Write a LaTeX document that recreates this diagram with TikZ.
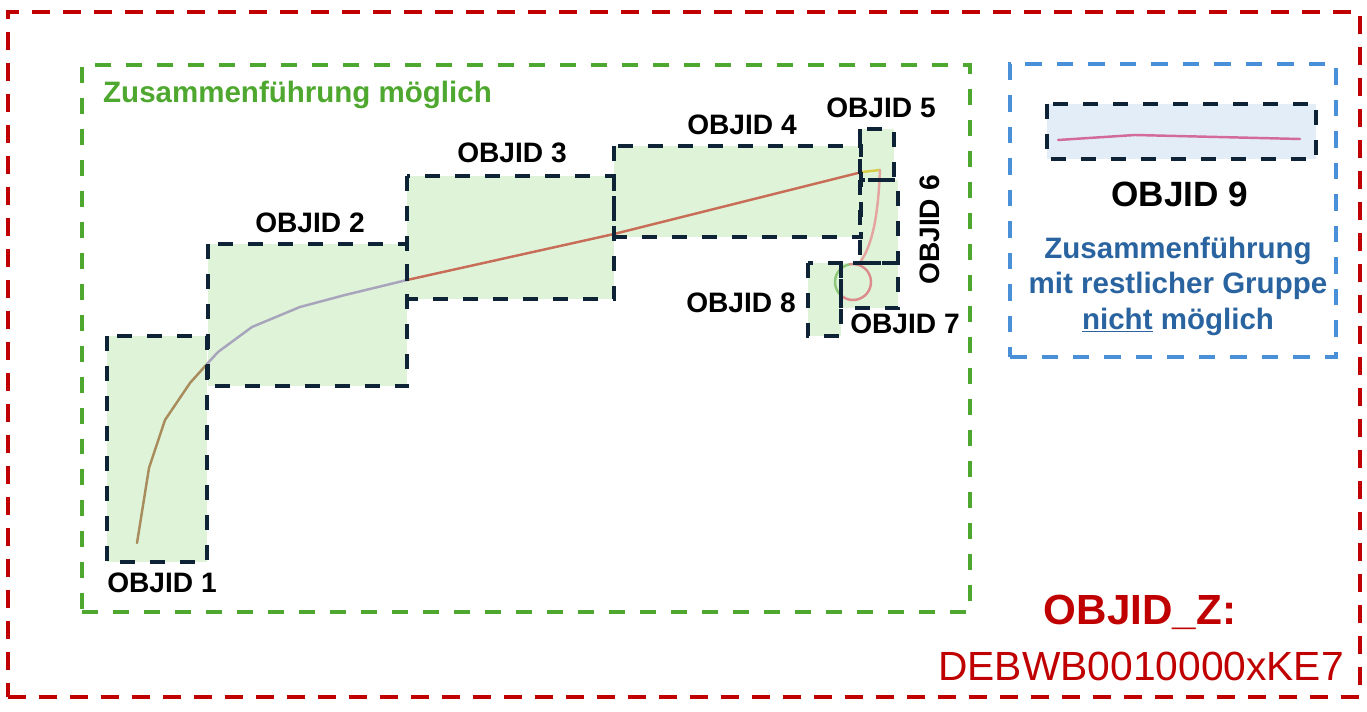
\documentclass[tikz,border=0pt]{standalone}
\usepackage{fontspec}
\setmainfont{Liberation Sans}
\usetikzlibrary{fit}

\definecolor{zred}{HTML}{C00000}
\definecolor{zgreen}{HTML}{4EA72E}
\definecolor{zblue}{HTML}{4A90D9}
\definecolor{ztext}{HTML}{2A64A0}
\definecolor{zdark}{HTML}{0E2335}
\definecolor{zfill}{HTML}{DFF3D9}
\definecolor{zfillb}{HTML}{E3EDF8}
\definecolor{seg1}{HTML}{A88C5C}
\definecolor{seg2}{HTML}{A8A4BC}
\definecolor{seg3}{HTML}{C86E58}
\definecolor{seg4}{HTML}{D7CD46}
\definecolor{seg5}{HTML}{E4A5A0}
\definecolor{seg6}{HTML}{8CC878}
\definecolor{seg7}{HTML}{DC8C8C}
\definecolor{seg9}{HTML}{D26A9A}

\tikzset{
  grp/.style={draw=#1, line width=2.1pt, dash pattern=on 0.36cm off 0.26cm, inner sep=0pt},
  objfill/.style={fill=zfill, inner sep=0pt},
  objbox/.style={draw=zdark, line width=2.3pt, dash pattern=on 0.3cm off 0.3cm},
  objlabel/.style={anchor=base, font=\bfseries\fontsize{16}{19}\selectfont},
  geo/.style={line width=1.4pt, line cap=round, line join=round, draw=#1},
}

\begin{document}
\begin{tikzpicture}[x=0.02cm,y=-0.02cm]
\useasboundingbox (0,0) rectangle (1367,712);

\node[grp=zred, fit={(8,12) (1360,697)}] (outer) {};
\node[grp=zgreen, line width=1.9pt, dash pattern=on 0.32cm off 0.3cm, fit={(82,65) (970,612)}] (merge) {};
\node[grp=zblue, line width=2pt, dash pattern=on 0.33cm off 0.3cm, fit={(1010,64) (1336,357)}] (nomerge) {};

\node[objfill, fit={(107,336) (207,562)}] (o1) {};
\node[objfill, fit={(208,244) (407,386)}] (o2) {};
\node[objfill, fit={(407,176) (614,299)}] (o3) {};
\node[objfill, fit={(614,146) (861,237)}] (o4) {};
\node[objfill, fit={(860,129) (894,180)}] (o5) {};
\node[objfill, fit={(860,180) (898,263)}] (o6) {};
\node[objfill, fit={(841,263) (898,308)}] (o7) {};
\node[objfill, fit={(808,263) (841,336)}] (o8) {};
\node[objfill, fill=zfillb, fit={(1047,104) (1316,159)}] (o9) {};

\draw[geo=seg1] (137,543) -- (149,468) -- (165,420) -- (190,383) -- (207,364);
\draw[geo=seg2] (207,364) -- (218,352) -- (252,327) -- (300,307) -- (345,295) -- (407,280);
\draw[geo=seg3] (407,280) -- (614,234) -- (862,172);
\draw[geo=seg4] (862,172) -- (880,170);
\coordinate (loop) at (853,282);
\draw[geo=seg5] (880,170) .. controls (878,215) and (873,245) .. (859,264);
\draw[geo=seg6] ([shift={(100:0.36cm)}]loop) arc[start angle=100, end angle=230, radius=0.36cm];
\draw[geo=seg7] ([shift={(230:0.36cm)}]loop) arc[start angle=230, end angle=460, radius=0.36cm];
\draw[geo=seg9] (1058,140) -- (1135,135) -- (1300,139);

\foreach \i in {1,...,9} \draw[objbox] (o\i.north west) rectangle (o\i.south east);

\node[objlabel] (l1) at (162,593) {OBJID 1};
\node[objlabel] (l2) at (310,233) {OBJID 2};
\node[objlabel] (l3) at (512,163) {OBJID 3};
\node[objlabel] (l4) at (742,135) {OBJID 4};
\node[objlabel] (l5) at (881,118) {OBJID 5};
\node[objlabel, anchor=center, rotate=90] (l6) at (930,230) {OBJID 6};
\node[objlabel] (l7) at (905,334) {OBJID 7};
\node[objlabel] (l8) at (741,313) {OBJID 8};
\node[objlabel, font=\bfseries\fontsize{20}{24}\selectfont] (l9) at (1180,207) {OBJID 9};

\node[anchor=base west, text=zgreen, font=\bfseries\fontsize{16.8}{20}\selectfont] (title) at (97,103) {Zusammenführung möglich};
\node[text=ztext, align=center, font=\bfseries\fontsize{16.8}{20.2}\selectfont] (note) at (1178,286)
  {Zusammenführung\\mit restlicher Gruppe\\\underline{nicht} möglich};

\node[anchor=base, text=zred, font=\bfseries\fontsize{24}{28}\selectfont] (zid) at (1140,625) {OBJID\_Z:};
\node[anchor=base, text=zred, font=\fontsize{23.2}{27}\selectfont] (zcode) at (1141,681) {DEBWB0010000xKE7};
\end{tikzpicture}
\end{document}
